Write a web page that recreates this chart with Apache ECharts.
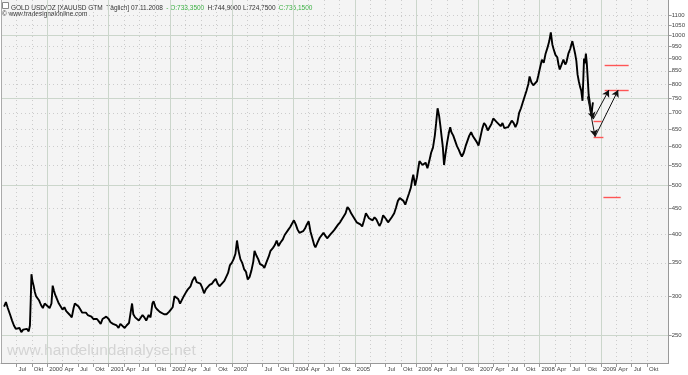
<!DOCTYPE html>
<html><head><meta charset="utf-8">
<script src="https://cdn.jsdelivr.net/npm/echarts@6/dist/echarts.min.js"></script>
<style>html,body{margin:0;padding:0;background:#fff}#c{width:688px;height:375px}</style>
</head><body><div id="c"></div>
<script>
// decimal years and gold prices (USD/oz)
const dates = [1999.30,1999.33,1999.36,1999.40,1999.43,1999.46,1999.49,1999.52,1999.55,1999.58,1999.61,1999.64,1999.67,1999.70,1999.72,1999.735,1999.745,1999.76,1999.78,1999.80,1999.82,1999.84,1999.87,1999.90,1999.93,1999.96,
2000.00,2000.04,2000.07,2000.09,2000.11,2000.13,2000.16,2000.19,2000.22,2000.25,2000.28,2000.31,2000.34,2000.37,2000.40,2000.43,2000.45,2000.48,2000.51,2000.54,2000.57,2000.60,2000.63,2000.66,2000.69,2000.72,2000.75,2000.78,2000.81,2000.84,2000.87,2000.90,2000.93,2000.96,
2001.00,2001.03,2001.07,2001.10,2001.13,2001.16,2001.19,2001.22,2001.26,2001.29,2001.33,2001.36,2001.38,2001.40,2001.43,2001.46,2001.49,2001.52,2001.55,2001.58,2001.61,2001.65,2001.68,2001.71,2001.73,2001.76,2001.79,2001.83,2001.86,2001.90,2001.94,2001.98,
2002.01,2002.04,2002.07,2002.10,2002.13,2002.16,2002.19,2002.22,2002.26,2002.29,2002.33,2002.36,2002.40,2002.43,2002.46,2002.49,2002.52,2002.55,2002.58,2002.61,2002.64,2002.68,2002.71,2002.74,2002.77,2002.80,2002.84,2002.88,2002.91,2002.94,2002.97,
2003.00,2003.03,2003.06,2003.085,2003.11,2003.14,2003.17,2003.20,2003.23,2003.26,2003.29,2003.32,2003.35,2003.37,2003.40,2003.43,2003.46,2003.50,2003.53,2003.56,2003.60,2003.63,2003.67,2003.70,2003.73,2003.76,2003.79,2003.83,2003.86,2003.89,2003.92,2003.95,2003.98,
2004.01,2004.04,2004.07,2004.10,2004.13,2004.16,2004.19,2004.22,2004.25,2004.28,2004.31,2004.34,2004.36,2004.40,2004.43,2004.46,2004.49,2004.52,2004.55,2004.58,2004.61,2004.64,2004.67,2004.70,2004.73,2004.76,2004.79,2004.82,2004.85,2004.88,2004.91,2004.94,2004.97,
2005.00,2005.03,2005.06,2005.09,2005.12,2005.15,2005.18,2005.20,2005.23,2005.26,2005.29,2005.32,2005.35,2005.38,2005.40,2005.43,2005.46,2005.48,2005.51,2005.54,2005.57,2005.60,2005.64,2005.67,2005.70,2005.73,2005.76,2005.79,2005.82,2005.85,2005.88,2005.91,2005.93,2005.95,2005.98,
2006.01,2006.03,2006.05,2006.08,2006.10,2006.13,2006.15,2006.18,2006.21,2006.24,2006.27,2006.30,2006.32,2006.345,2006.37,2006.39,2006.41,2006.43,2006.45,2006.47,2006.50,2006.53,2006.55,2006.57,2006.60,2006.63,2006.66,2006.69,2006.72,2006.74,2006.77,2006.80,2006.83,2006.86,2006.89,2006.92,2006.95,2006.98,
2007.01,2007.04,2007.07,2007.10,2007.13,2007.16,2007.19,2007.22,2007.25,2007.28,2007.31,2007.34,2007.37,2007.40,2007.43,2007.46,2007.49,2007.52,2007.55,2007.58,2007.61,2007.64,2007.67,2007.70,2007.73,2007.76,2007.79,2007.82,2007.84,2007.87,2007.90,2007.93,2007.96,2007.98,
2008.01,2008.04,2008.07,2008.10,2008.13,2008.16,2008.185,2008.21,2008.23,2008.26,2008.29,2008.31,2008.33,2008.36,2008.39,2008.42,2008.44,2008.47,2008.50,2008.535,2008.56,2008.58,2008.60,2008.62,2008.64,2008.66,2008.68,2008.70,2008.715,2008.725,2008.74,2008.755,2008.77,2008.785,2008.80,2008.815,2008.83,2008.845,2008.86,2008.87];
const prices = [286,292,284,275,268,262,258,256,259,254,257,255,258,255,262,300,332,322,315,306,300,298,294,288,284,290,
287,284,290,315,308,302,296,290,286,282,285,280,278,275,272,284,290,289,286,282,278,276,278,275,273,273,270,268,270,267,264,270,272,273,
270,266,264,265,262,259,264,262,259,262,265,280,290,276,272,270,268,270,275,272,268,275,272,290,293,285,282,279,280,276,276,279,
282,285,300,302,296,290,295,300,306,310,314,322,328,320,322,318,312,304,310,312,316,318,322,325,318,314,318,322,322,334,346,
350,356,365,388,370,356,350,340,336,324,328,338,352,370,362,356,348,346,342,350,360,370,375,380,388,378,384,390,398,396,408,413,415,
426,418,408,402,400,405,410,418,424,404,392,380,376,386,393,396,402,402,392,396,400,404,408,405,418,422,422,434,440,453,448,440,436,
428,422,420,418,414,426,440,442,430,428,426,432,428,420,415,422,436,440,428,422,425,432,440,452,466,472,470,466,458,470,482,495,512,526,500,
520,540,560,556,550,546,556,542,560,582,596,630,665,715,690,660,628,598,550,575,610,640,655,640,630,625,600,590,578,572,582,600,615,630,640,628,630,612,
602,625,650,668,660,645,655,665,682,678,670,665,658,668,652,648,655,665,675,668,655,668,700,715,735,755,775,800,828,805,795,790,810,830,
862,895,882,920,945,975,1015,960,940,915,905,875,855,875,895,875,885,920,940,975,945,920,890,835,810,790,775,740,830,900,880,920,880,820,760,740,710,690,720,735];

const yTicks = [250,300,350,400,450,500,550,600,650,700,750,800,850,900,950,1000,1050,1100];
const yMajor = [250,500,750,1000];
const xTicks = [1999.5,1999.75,2000,2000.25,2000.5,2000.75,2001,2001.25,2001.5,2001.75,2002,2002.25,2002.5,2002.75,2003,2003.25,2003.5,2003.75,2004,2004.25,2004.5,2004.75,2005,2005.25,2005.5,2005.75,2006,2006.25,2006.5,2006.75,2007,2007.25,2007.5,2007.75,2008,2008.25,2008.5,2008.75,2009,2009.25,2009.5,2009.75];
const xTickLabels = ['Jul','Okt','2000','Apr','Jul','Okt','2001','Apr','Jul','Okt','2002','Apr','Jul','Okt','2003','','Jul','Okt','2004','Apr','Jul','Okt','2005','','Jul','Okt','2006','Apr','Jul','Okt','2007','Apr','Jul','Okt','2008','Apr','Jul','Okt','2009','Apr','Jul','Okt'];
const yearLines = [2000,2001,2002,2003,2004,2005,2006,2007,2008,2009];

// analyst target levels: [price, fromYear, toYear]
const redLevels = [[872,2009.06,2009.45],[778,2009.06,2009.45],[674,2008.88,2009.01],[624,2008.88,2009.04],[474,2009.04,2009.32]];
// arrows: [fromYear, fromPrice, toYear, toPrice]
const arrows = [[2008.79,750,2008.875,680],[2008.78,755,2008.905,627],[2008.875,680,2009.13,778],[2008.905,627,2009.28,778]];

const X_MIN = 1999.25, X_MAX = 2010.1, Y_MIN = 220.3, Y_MAX = 1179;

const chart = echarts.init(document.getElementById('c'), null, {renderer:'canvas'});
const font = 'Liberation Sans, Arial, sans-serif';
chart.setOption({
  animation:false,
  backgroundColor:'#ffffff',
  grid:{left:1,right:19,top:0,bottom:12,show:true,backgroundColor:'#f4f4f4',borderWidth:0},
  xAxis:[
    {type:'value',min:X_MIN,max:X_MAX,position:'bottom',
     axisLine:{show:true,lineStyle:{color:'#999',width:1}},
     axisTick:{show:true,customValues:xTicks,length:4,lineStyle:{color:'#999'}},
     axisLabel:{customValues:xTicks,fontSize:6,fontFamily:font,color:'#444',align:'left',margin:3,padding:[0,0,0,2],hideOverlap:false,
       formatter:v=>{const i=xTicks.findIndex(t=>Math.abs(t-v)<1e-6);return i>=0?xTickLabels[i]:'';}},
     splitLine:{show:true,lineStyle:{type:[1,3],color:'#cccccc',width:1}}},
    {type:'value',min:X_MIN,max:X_MAX,position:'bottom',
     axisLine:{show:false},axisTick:{show:false,customValues:yearLines},axisLabel:{show:false},
     splitLine:{show:true,lineStyle:{type:'solid',color:'#cbd6cb',width:1}}}
  ],
  yAxis:[
    {type:'log',logBase:10,min:Y_MIN,max:Y_MAX,position:'right',
     axisLine:{show:true,lineStyle:{color:'#999',width:1}},
     axisTick:{show:true,customValues:yTicks,length:3,lineStyle:{color:'#999'}},
     axisLabel:{customValues:yTicks,fontSize:6,fontFamily:font,color:'#444',margin:3,hideOverlap:false,
       formatter:v=>String(Math.round(v))},
     splitLine:{show:true,lineStyle:{type:[1,3],color:'#cccccc',width:1}}},
    {type:'log',logBase:10,min:Y_MIN,max:Y_MAX,position:'left',
     axisLine:{show:true,lineStyle:{color:'#aaa',width:1}},axisTick:{show:false,customValues:yMajor},axisLabel:{show:false},
     splitLine:{show:true,lineStyle:{type:'solid',color:'#cbd6cb',width:1}}}
  ],
  series:[
    {type:'line',name:'GOLD',xAxisIndex:0,yAxisIndex:0,data:dates.map((d,i)=>[d,prices[i]]),
     showSymbol:false,symbol:'none',lineStyle:{color:'#000',width:1.9,join:'bevel'},z:3},
    {type:'line',xAxisIndex:0,yAxisIndex:0,data:[],z:4,
     markLine:{silent:true,symbol:'none',label:{show:false},lineStyle:{color:'#ff5555',width:1.4,type:'solid'},
       data:redLevels.map(r=>[{coord:[r[1],r[0]]},{coord:[r[2],r[0]]}])}},
    {type:'line',xAxisIndex:0,yAxisIndex:0,data:[],z:5,
     markLine:{silent:true,symbol:['none','arrow'],symbolSize:[6,7],label:{show:false},lineStyle:{color:'#111',width:1,type:'solid'},
       data:arrows.map(a=>[{coord:[a[0],a[1]]},{coord:[a[2],a[3]]}])}}
  ],
  graphic:[
    {type:'rect',left:2,top:2,shape:{width:6,height:6},style:{fill:'#fff',stroke:'#888',lineWidth:1}},
    {type:'text',left:11,top:2,style:{
      text:'{a|GOLD USD/OZ [XAUUSD GTM  Täglich] 07.11.2008} {g|- O:733,3500} {a|H:744,9000 L:724,7500} {g|C:735,1500}',
      rich:{a:{fill:'#333',fontSize:6.5,fontFamily:font},g:{fill:'#3cb043',fontSize:6.5,fontFamily:font}}}},
    {type:'text',left:2,top:11,style:{text:'© www.tradesignalonline.com',fill:'#333',fontSize:6.5,fontFamily:font}},
    {type:'text',left:7,top:343,style:{text:'www.handelundanalyse.net',fill:'#d4d4d4',fontSize:15.5,fontFamily:font}}
  ]
});
</script></body></html>
